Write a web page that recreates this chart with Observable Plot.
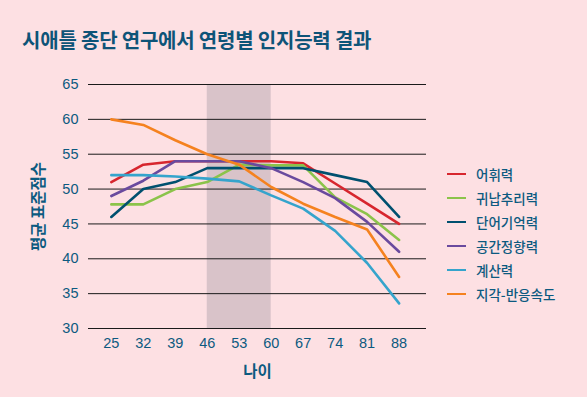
<!DOCTYPE html>
<html><head><meta charset="utf-8">
<script src="https://cdn.jsdelivr.net/npm/d3@7"></script>
<script src="https://cdn.jsdelivr.net/npm/@observablehq/plot@0.6"></script>
<style>
html,body{margin:0;padding:0;background:#fde0e3;}
#wrap{position:relative;width:587px;height:397px;background:#fde0e3;font-family:"Liberation Sans","Noto Sans CJK KR",sans-serif;color:#0c5a80;overflow:hidden;}
#title{position:absolute;left:22px;top:26px;font-family:"Noto Sans CJK KR",sans-serif;font-weight:700;font-size:20px;color:#0e5478;letter-spacing:-0.2px;white-space:nowrap;line-height:28px;}
#chart{position:absolute;left:0;top:60px;}
#legend{position:absolute;left:447px;top:162px;font-family:"Noto Sans CJK KR",sans-serif;font-size:13.5px;font-weight:500;color:#0c5a80;}
.li{display:flex;align-items:center;height:24px;}
.sw{width:19px;height:2.5px;margin-right:10px;}
</style></head>
<body><div id="wrap"><div id="title">시애틀 종단 연구에서 연령별 인지능력 결과</div><div id="chart"></div><div id="legend"></div></div>
<script>
const ages = [25, 32, 39, 46, 53, 60, 67, 74, 81, 88];
const seriesNames = ["어휘력", "귀납추리력", "단어기억력", "공간정향력", "계산력", "지각-반응속도"];
const colors = ["#d7262e", "#8bc34a", "#00506f", "#6a4a9e", "#35a4cc", "#f5821f"];
const vocab      = [51, 53.5, 54, 54, 54, 54, 53.7, 50.8, 47.9, 45];
const induction  = [47.8, 47.8, 50, 51, 53.5, 53.4, 53.4, 48.8, 46.4, 42.7];
const memory     = [46, 50, 51, 53, 53, 53, 53, 52, 51, 46];
const spatial    = [49, 51.2, 54, 54, 54, 53, 51, 48.7, 45.3, 41];
const numeric    = [52, 52, 51.8, 51.5, 51.1, 49.1, 47.2, 44, 39.4, 33.6];
const speed      = [60, 59.2, 57, 55, 53.5, 50.3, 47.9, 46, 44.2, 37.4];
const yTicks = [30, 35, 40, 45, 50, 55, 60, 65];
const shade = [{x1: 46, x2: 60}];

const allSeries = [vocab, induction, memory, spatial, numeric, speed];
const rows = [];
allSeries.forEach((vals, si) => vals.forEach((v, i) => rows.push({age: ages[i], value: v, series: seriesNames[si]})));

const ink = "#0c5a80";
const plot = Plot.plot({
  width: 587, height: 337,
  marginTop: 24, marginBottom: 69, marginLeft: 88, marginRight: 161,
  style: {background: "transparent", fontFamily: '"Liberation Sans","Noto Sans CJK KR",sans-serif', fontSize: "14px", color: ink},
  x: {domain: [20, 94]},
  y: {domain: [30, 65]},
  color: {domain: seriesNames, range: colors},
  marks: [
    Plot.rectX(shade, {x1: "x1", x2: "x2", y1: 30, y2: 65, fill: "#d9c3c9"}),
    Plot.ruleY(yTicks, {stroke: "#1a1a1a", strokeWidth: 1}),
    Plot.axisY({ticks: yTicks, tickSize: 0, tickPadding: 10, fill: ink, label: "평균 표준점수", labelArrow: false, labelAnchor: "center", labelOffset: 56, fontSize: 14.5}),
    Plot.axisX({ticks: ages, tickSize: 0, tickPadding: 9, fill: ink, label: "나이", labelArrow: false, labelAnchor: "center", labelOffset: 48, fontSize: 14.5}),
    Plot.line(rows, {x: "age", y: "value", z: "series", stroke: "series", strokeWidth: 2.6, strokeLinejoin: "miter"})
  ]
});
document.getElementById("chart").appendChild(plot);
plot.querySelectorAll("g[aria-label='x-axis label'] text, g[aria-label='y-axis label'] text").forEach(t => {
  t.setAttribute("font-weight", "700");
  t.setAttribute("font-size", "15.5");
  t.style.fontFamily = '"Noto Sans CJK KR",sans-serif';
});
const lg = document.getElementById("legend");
seriesNames.forEach((n, i) => {
  const d = document.createElement("div"); d.className = "li";
  d.innerHTML = `<span class="sw" style="background:${colors[i]}"></span><span>${n}</span>`;
  lg.appendChild(d);
});
</script></body></html>
